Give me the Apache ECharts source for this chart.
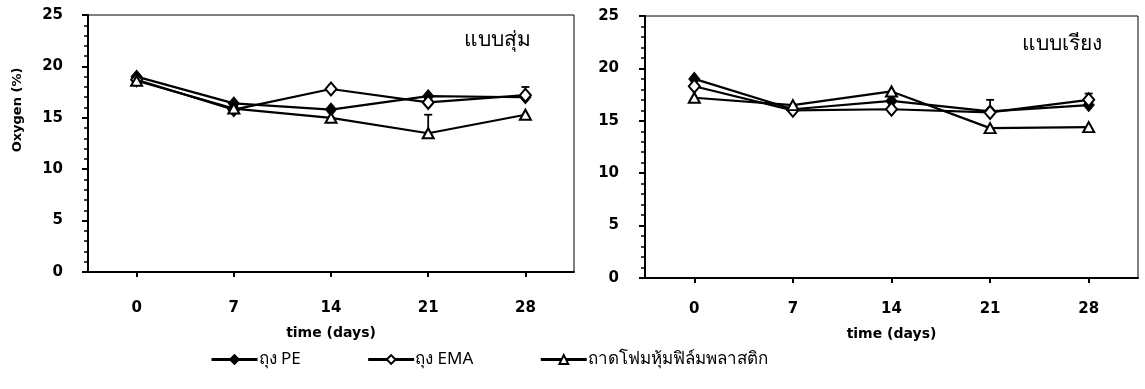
<!DOCTYPE html>
<html>
<head>
<meta charset="utf-8">
<script src="https://cdn.jsdelivr.net/npm/echarts@6/dist/echarts.min.js"></script>
<style>
  html, body { margin: 0; padding: 0; background: #ffffff; }
  #chart { width: 1145px; height: 389px; }
</style>
</head>
<body>
<div id="chart"></div>
<script>
// Sampling days
const days = ['0', '7', '14', '21', '28'];
const yTicks = [0, 5, 10, 15, 20, 25];

// Series names (legend)
const namePE = 'ถุง PE';
const nameEMA = 'ถุง EMA';
const nameFoam = 'ถาดโฟมหุ้มฟิล์มพลาสติก';

// Panel titles
const titleRandom = 'แบบสุ่ม';
const titleRow = 'แบบเรียง';

// Oxygen (%) – random arrangement
const randomPE   = [19.0, 16.4, 15.8, 17.1, 17.0];
const randomEMA  = [18.7, 15.8, 17.8, 16.5, 17.2];
const randomFoam = [18.6, 15.9, 15.0, 13.5, 15.3];
// upper error (only where the bar shows beyond the marker)
const randomPEErr   = [0, 0, 0, 0, 0];
const randomEMAErr  = [0, 0, 0, 0, 0.8];
const randomFoamErr = [0, 0, 0, 1.8, 0];

// Oxygen (%) – row arrangement
const rowPE   = [19.0, 16.1, 16.9, 15.9, 16.5];
const rowEMA  = [18.3, 16.0, 16.1, 15.8, 17.0];
const rowFoam = [17.2, 16.5, 17.8, 14.3, 14.4];
const rowPEErr   = [0, 0, 0, 0, 0];
const rowEMAErr  = [0, 0, 0, 1.2, 0.6];
const rowFoamErr = [0, 0, 0, 0, 0];

const FONT = 'DejaVu Sans';

function xAxis(gridIndex) {
  return {
    type: 'category', gridIndex, data: days, boundaryGap: true,
    name: 'time (days)', nameLocation: 'middle', nameGap: gridIndex === 0 ? 54 : 49,
    nameTextStyle: { color: '#000', fontFamily: FONT, fontSize: 14, fontWeight: 'bold' },
    axisLine: { show: true, lineStyle: { color: '#000', width: 2 } },
    axisTick: { show: true, alignWithLabel: true, inside: false, length: 5, lineStyle: { color: '#000', width: 2 } },
    axisLabel: { color: '#000', fontFamily: FONT, fontSize: 15, fontWeight: 'bold', margin: gridIndex === 0 ? 29 : 24 },
    splitLine: { show: false }
  };
}
function yAxis(gridIndex) {
  return {
    type: 'value', gridIndex, min: yTicks[0], max: yTicks[yTicks.length - 1], interval: 5,
    axisLine: { show: true, lineStyle: { color: '#000', width: 2 } },
    axisTick: { show: true, inside: false, length: 6, lineStyle: { color: '#000', width: 2 } },
    minorTick: { show: true, splitNumber: 5, length: 4, lineStyle: { color: '#000', width: 1.5 } },
    axisLabel: { color: '#000', fontFamily: FONT, fontSize: 15, fontWeight: 'bold', margin: gridIndex === 0 ? 25 : 26 },
    splitLine: { show: false }
  };
}

function lineSeries(name, data, gi, kind) {
  const s = {
    name, type: 'line', xAxisIndex: gi, yAxisIndex: gi, data,
    lineStyle: { color: '#000', width: 2.2 },
    showSymbol: true, z: 3, animation: false
  };
  if (kind === 'pe') {
    s.symbol = 'diamond'; s.symbolSize = [11, 13];
    s.itemStyle = { color: '#000', borderColor: '#000', borderWidth: 1 };
  } else if (kind === 'ema') {
    s.symbol = 'diamond'; s.symbolSize = [11, 13];
    s.itemStyle = { color: '#fff', borderColor: '#000', borderWidth: 2 };
  } else {
    s.symbol = 'triangle'; s.symbolSize = [11, 10];
    s.itemStyle = { color: '#fff', borderColor: '#000', borderWidth: 2 };
  }
  return s;
}

// Upper error bars drawn through the axes' own scales
function errSeries(name, values, errs, gi) {
  const data = values.map((v, i) => [i, v, v + errs[i], errs[i]]);
  return {
    name, type: 'custom', xAxisIndex: gi, yAxisIndex: gi, z: 2, animation: false,
    renderItem(params, api) {
      if (!api.value(3)) return null;
      const p0 = api.coord([api.value(0), api.value(1)]);
      const p1 = api.coord([api.value(0), api.value(2)]);
      const w = 4;
      return {
        type: 'group',
        children: [
          { type: 'line', shape: { x1: p0[0], y1: p0[1], x2: p1[0], y2: p1[1] }, style: { stroke: '#000', lineWidth: 1.8 } },
          { type: 'line', shape: { x1: p1[0] - w, y1: p1[1], x2: p1[0] + w, y2: p1[1] }, style: { stroke: '#000', lineWidth: 1.8 } }
        ]
      };
    },
    data
  };
}

const chart = echarts.init(document.getElementById('chart'), null, { renderer: 'canvas' });
chart.setOption({
  backgroundColor: '#fff',
  animation: false,
  grid: [
    { left: 88, top: 15, width: 486, height: 257, show: true, borderColor: '#000', borderWidth: 1, backgroundColor: 'transparent' },
    { left: 645, top: 16, width: 493, height: 262, show: true, borderColor: '#000', borderWidth: 1, backgroundColor: 'transparent' }
  ],
  xAxis: [xAxis(0), xAxis(1)],
  yAxis: [yAxis(0), yAxis(1)],
  legend: {
    data: [namePE, nameEMA, nameFoam],
    left: 205, top: 346, itemWidth: 46, itemHeight: 11, itemGap: 66,
    lineStyle: { width: 3 },
    textStyle: { color: '#000', fontSize: 17, fontFamily: 'Noto Sans, DejaVu Sans, sans-serif', padding: [0, 0, 0, -4] }
  },
  graphic: [
    { type: 'text', x: 18, y: 110, rotation: Math.PI / 2, style: { text: 'Oxygen (%)', fill: '#000', font: 'bold 13px "DejaVu Sans"', align: 'center', verticalAlign: 'middle' } },
    { type: 'text', x: 497, y: 40, style: { text: titleRandom, fill: '#000', font: '21px "Noto Sans", "DejaVu Sans", sans-serif', align: 'center', verticalAlign: 'middle' } },
    { type: 'text', x: 1062, y: 44, style: { text: titleRow, fill: '#000', font: '21px "Noto Sans", "DejaVu Sans", sans-serif', align: 'center', verticalAlign: 'middle' } }
  ],
  series: [
    lineSeries(namePE, randomPE, 0, 'pe'),
    lineSeries(nameEMA, randomEMA, 0, 'ema'),
    lineSeries(nameFoam, randomFoam, 0, 'foam'),
    errSeries(namePE, randomPE, randomPEErr, 0),
    errSeries(nameEMA, randomEMA, randomEMAErr, 0),
    errSeries(nameFoam, randomFoam, randomFoamErr, 0),
    lineSeries(namePE, rowPE, 1, 'pe'),
    lineSeries(nameEMA, rowEMA, 1, 'ema'),
    lineSeries(nameFoam, rowFoam, 1, 'foam'),
    errSeries(namePE, rowPE, rowPEErr, 1),
    errSeries(nameEMA, rowEMA, rowEMAErr, 1),
    errSeries(nameFoam, rowFoam, rowFoamErr, 1)
  ]
});
</script>
</body>
</html>
